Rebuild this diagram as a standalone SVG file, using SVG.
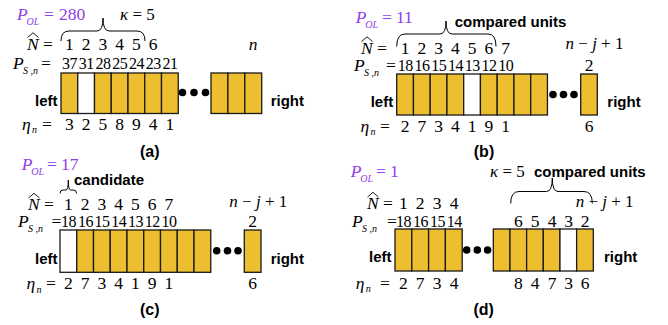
<svg xmlns="http://www.w3.org/2000/svg" width="668" height="325" viewBox="0 0 668 325">
<style>
.t{font-family:"Liberation Serif",serif;font-size:17.5px;fill:#000}
.p{font-family:"Liberation Serif",serif;font-size:16px;letter-spacing:-0.5px;fill:#000}
.s{font-family:"Liberation Serif",serif;font-size:10px;font-style:italic}
.pol{font-family:"Liberation Serif",serif;font-size:17.5px;fill:#9040E8}
.eq{font-family:"Liberation Serif",serif;font-size:17.5px}
.nj{font-family:"Liberation Serif",serif;font-size:17px}
.b{font-family:"Liberation Sans",Arial,sans-serif;font-size:15px;font-weight:bold}
.cap{font-family:"Liberation Sans",Arial,sans-serif;font-size:16px;font-weight:bold;text-anchor:middle}
.c{text-anchor:middle}
.box{fill:#EDBE2F;stroke:#1a1a1a;stroke-width:1.3}
.wbox{fill:#fff;stroke:#1a1a1a;stroke-width:1.3}
.br{fill:none;stroke:#000;stroke-width:1}
.hat{fill:none;stroke:#000;stroke-width:0.9}
</style>

<!-- Panel (a) -->
<g id="panel-a">
  <g id="a-labels">
    <text class="pol"><tspan x="17" y="20" font-style="italic">P</tspan><tspan x="26.5" y="25" font-size="10" font-style="italic">OL</tspan><tspan x="44" y="20">=</tspan><tspan x="59" y="20">280</tspan></text>
    <path class="br" d="M61,41 Q61,31 69,31 L97,31 Q103,31 103,18 Q103,31 109,31 L137,31 Q145,31 145,41"/>
    <text class="nj" x="120" y="20"><tspan font-style="italic">κ</tspan> = 5</text>
    <path class="hat" d="M27.5,37.5 L33,32.8 L38.5,37.5"/>
    <text class="eq" x="27" y="49.5"><tspan font-style="italic">N</tspan> =</text>
    <g class="t c">
      <text x="69.4" y="49.5">1</text><text x="86.1" y="49.5">2</text><text x="102.9" y="49.5">3</text><text x="119.6" y="49.5">4</text><text x="136.4" y="49.5">5</text><text x="153.1" y="49.5">6</text>
      <text x="253.2" y="49.5" font-style="italic">n</text>
    </g>
    <text class="eq" x="13" y="68.5" font-style="italic">P</text><text class="s" x="23" y="73.5">S ,n</text><text class="eq" x="41" y="68.5">=</text>
    <g class="p c">
      <text x="69.6" y="68.5">37</text><text x="86.3" y="68.5">31</text><text x="103.1" y="68.5">28</text><text x="119.8" y="68.5">25</text><text x="136.6" y="68.5">24</text><text x="153.3" y="68.5">23</text><text x="170.1" y="68.5">21</text>
    </g>
    <text class="eq" x="22" y="129.5" font-style="italic">η</text><text class="s" x="32" y="133">n</text><text class="eq" x="42" y="129.5">=</text>
    <g class="t c">
      <text x="69.4" y="129.5">3</text><text x="86.1" y="129.5">2</text><text x="102.9" y="129.5">5</text><text x="119.6" y="129.5">8</text><text x="136.4" y="129.5">9</text><text x="153.1" y="129.5">4</text><text x="169.9" y="129.5">1</text>
    </g>
    <text class="b" x="35" y="106">left</text>
    <text class="b" x="270.7" y="106">right</text>
    <text class="cap" x="149.7" y="157">(a)</text>
  </g>
  <g id="a-units">
    <rect class="box" x="61" y="73" width="16.75" height="40.5"/>
    <rect class="wbox" x="77.75" y="73" width="16.75" height="40.5"/>
    <rect class="box" x="94.5" y="73" width="16.75" height="40.5"/>
    <rect class="box" x="111.25" y="73" width="16.75" height="40.5"/>
    <rect class="box" x="128" y="73" width="16.75" height="40.5"/>
    <rect class="box" x="144.75" y="73" width="16.75" height="40.5"/>
    <rect class="box" x="161.5" y="73" width="16.75" height="40.5"/>
    <circle cx="182.5" cy="92.5" r="3.8"/><circle cx="194" cy="92.5" r="3.8"/><circle cx="205.5" cy="92.5" r="3.8"/>
    <rect class="box" x="211" y="73" width="16.9" height="40.5"/>
    <rect class="box" x="227.9" y="73" width="16.9" height="40.5"/>
    <rect class="box" x="244.8" y="73" width="16.9" height="40.5"/>
  </g>
</g>

<!-- Panel (b) -->
<g id="panel-b">
  <g id="b-labels">
    <text class="pol"><tspan x="355.7" y="23" font-style="italic">P</tspan><tspan x="365.2" y="28" font-size="10" font-style="italic">OL</tspan><tspan x="382" y="23">=</tspan><tspan x="396" y="23">11</tspan></text>
    <path class="br" d="M396.7,46.5 Q396.7,34 405,34 L440,34 Q446,34 446,21 Q446,34 452,34 L488,34 Q496,34 496,46.5"/>
    <text class="b" x="454.7" y="27">compared units</text>
    <path class="hat" d="M361.5,41.5 L367,36.8 L372.5,41.5"/>
    <text class="eq" x="361" y="53.5"><tspan font-style="italic">N</tspan> =</text>
    <g class="t c">
      <text x="405.1" y="53.5">1</text><text x="421.8" y="53.5">2</text><text x="438.6" y="53.5">3</text><text x="455.3" y="53.5">4</text><text x="472.1" y="53.5">5</text><text x="488.8" y="53.5">6</text><text x="505.6" y="53.5">7</text>
    </g>
    <text class="nj c" x="594.5" y="48.5"><tspan font-style="italic">n</tspan> − <tspan font-style="italic">j</tspan> + 1</text>
    <text class="eq" x="354" y="70.5" font-style="italic">P</text><text class="s" x="364" y="75.5">S ,n</text><text class="eq" x="386" y="70.5">=</text>
    <g class="p c">
      <text x="405.3" y="70.5">18</text><text x="422" y="70.5">16</text><text x="438.8" y="70.5">15</text><text x="455.5" y="70.5">14</text><text x="472.3" y="70.5">13</text><text x="489" y="70.5">12</text><text x="505.8" y="70.5">10</text>
    </g>
    <text class="t c" x="589" y="70.5">2</text>
    <text class="eq" x="360.5" y="131.5" font-style="italic">η</text><text class="s" x="370.5" y="135">n</text><text class="eq" x="380" y="131.5">=</text>
    <g class="t c">
      <text x="405.1" y="131.5">2</text><text x="421.8" y="131.5">7</text><text x="438.6" y="131.5">3</text><text x="455.3" y="131.5">4</text><text x="472.1" y="131.5">1</text><text x="488.8" y="131.5">9</text><text x="505.6" y="131.5">1</text>
      <text x="589" y="131.5">6</text>
    </g>
    <text class="b" x="370.7" y="106.5">left</text>
    <text class="b" x="607.3" y="106.5">right</text>
    <text class="cap" x="484" y="156.5">(b)</text>
  </g>
  <g id="b-units">
    <rect class="box" x="396.7" y="74" width="16.75" height="41"/>
    <rect class="box" x="413.45" y="74" width="16.75" height="41"/>
    <rect class="box" x="430.2" y="74" width="16.75" height="41"/>
    <rect class="box" x="446.95" y="74" width="16.75" height="41"/>
    <rect class="wbox" x="463.7" y="74" width="16.75" height="41"/>
    <rect class="box" x="480.45" y="74" width="16.75" height="41"/>
    <rect class="box" x="497.2" y="74" width="16.75" height="41"/>
    <rect class="box" x="513.95" y="74" width="16.75" height="41"/>
    <rect class="box" x="530.7" y="74" width="16.75" height="41"/>
    <circle cx="553" cy="94.5" r="3.8"/><circle cx="563.5" cy="94.5" r="3.8"/><circle cx="574" cy="94.5" r="3.8"/>
    <rect class="box" x="580.7" y="74" width="16.6" height="41"/>
  </g>
</g>

<!-- Panel (c) -->
<g id="panel-c">
  <g id="c-labels">
    <text class="pol"><tspan x="21.7" y="170" font-style="italic">P</tspan><tspan x="31.2" y="175" font-size="10" font-style="italic">OL</tspan><tspan x="47" y="170">=</tspan><tspan x="61" y="170">17</tspan></text>
    <path class="br" d="M60,193.5 Q60,190 63,190 L66,190 Q68.3,190 68.3,180 Q68.3,190 70.6,190 L73.5,190 Q76.5,190 76.5,193.5"/>
    <text class="b" x="74" y="185">candidate</text>
    <path class="hat" d="M28.5,198 L34,193.3 L39.5,198"/>
    <text class="eq" x="28" y="209.5"><tspan font-style="italic">N</tspan> =</text>
    <g class="t c">
      <text x="68.4" y="209.5">1</text><text x="85.2" y="209.5">2</text><text x="101.9" y="209.5">3</text><text x="118.6" y="209.5">4</text><text x="135.4" y="209.5">5</text><text x="152.1" y="209.5">6</text><text x="168.8" y="209.5">7</text>
    </g>
    <text class="nj c" x="258.3" y="206.5"><tspan font-style="italic">n</tspan> − <tspan font-style="italic">j</tspan> + 1</text>
    <text class="eq" x="18" y="226.5" font-style="italic">P</text><text class="s" x="28" y="231.5">S ,n</text><text class="eq" x="51.5" y="226.5">=</text>
    <g class="p c">
      <text x="68.6" y="226.5">18</text><text x="85.4" y="226.5">16</text><text x="102.1" y="226.5">15</text><text x="118.8" y="226.5">14</text><text x="135.6" y="226.5">13</text><text x="152.3" y="226.5">12</text><text x="169" y="226.5">10</text>
    </g>
    <text class="t c" x="252.7" y="226.5">2</text>
    <text class="eq" x="26.5" y="289" font-style="italic">η</text><text class="s" x="36.5" y="292.5">n</text><text class="eq" x="46" y="289">=</text>
    <g class="t c">
      <text x="68.4" y="289">2</text><text x="85.2" y="289">7</text><text x="101.9" y="289">3</text><text x="118.6" y="289">4</text><text x="135.4" y="289">1</text><text x="152.1" y="289">9</text><text x="168.8" y="289">1</text>
      <text x="252.7" y="289">6</text>
    </g>
    <text class="b" x="35" y="264">left</text>
    <text class="b" x="270.7" y="264">right</text>
    <text class="cap" x="149.7" y="315">(c)</text>
  </g>
  <g id="c-units">
    <rect class="wbox" x="60" y="230" width="16.75" height="42.3"/>
    <rect class="box" x="76.75" y="230" width="16.75" height="42.3"/>
    <rect class="box" x="93.5" y="230" width="16.75" height="42.3"/>
    <rect class="box" x="110.25" y="230" width="16.75" height="42.3"/>
    <rect class="box" x="127" y="230" width="16.75" height="42.3"/>
    <rect class="box" x="143.75" y="230" width="16.75" height="42.3"/>
    <rect class="box" x="160.5" y="230" width="16.75" height="42.3"/>
    <rect class="box" x="177.25" y="230" width="16.75" height="42.3"/>
    <rect class="box" x="194" y="230" width="16.75" height="42.3"/>
    <circle cx="216.7" cy="250.7" r="3.8"/><circle cx="227.5" cy="250.7" r="3.8"/><circle cx="238" cy="250.7" r="3.8"/>
    <rect class="box" x="244.3" y="230" width="16.7" height="42.3"/>
  </g>
</g>

<!-- Panel (d) -->
<g id="panel-d">
  <g id="d-labels">
    <text class="pol"><tspan x="350.7" y="177" font-style="italic">P</tspan><tspan x="360.2" y="182" font-size="10" font-style="italic">OL</tspan><tspan x="376" y="177">=</tspan><tspan x="390" y="177">1</tspan></text>
    <text class="nj" x="490" y="177"><tspan font-style="italic">κ</tspan> = 5</text>
    <text class="b" x="534" y="177">compared units</text>
    <path class="br" d="M510.7,203.5 Q510.7,191.5 519,191.5 L546.5,191.5 Q552.3,191.5 552.3,178 Q552.3,191.5 558,191.5 L584,191.5 Q592.3,191.5 592.3,203.5"/>
    <path class="hat" d="M367.5,197 L373,192.3 L378.5,197"/>
    <text class="eq" x="367" y="208.5"><tspan font-style="italic">N</tspan> =</text>
    <g class="t c">
      <text x="403.3" y="208.5">1</text><text x="420.2" y="208.5">2</text><text x="437.2" y="208.5">3</text><text x="454" y="208.5">4</text>
    </g>
    <text class="nj" x="575.7" y="206.7"><tspan font-style="italic">n</tspan> − <tspan font-style="italic">j</tspan> + 1</text>
    <text class="eq" x="352" y="226.5" font-style="italic">P</text><text class="s" x="362" y="231.5">S ,n</text><text class="eq" x="387" y="226.5">=</text>
    <g class="p c">
      <text x="403.5" y="226.5">18</text><text x="420.4" y="226.5">16</text><text x="437.4" y="226.5">15</text><text x="454.2" y="226.5">14</text>
    </g>
    <g class="t c">
      <text x="518.3" y="226.5">6</text><text x="535.2" y="226.5">5</text><text x="552" y="226.5">4</text><text x="568.5" y="226.5">3</text><text x="585" y="226.5">2</text>
    </g>
    <text class="eq" x="355.7" y="288.5" font-style="italic">η</text><text class="s" x="365.7" y="292">n</text><text class="eq" x="380" y="288.5">=</text>
    <g class="t c">
      <text x="403.3" y="288.5">2</text><text x="420.2" y="288.5">7</text><text x="437.2" y="288.5">3</text><text x="454" y="288.5">4</text>
      <text x="518.3" y="288.5">8</text><text x="535.2" y="288.5">4</text><text x="552" y="288.5">7</text><text x="568.5" y="288.5">3</text><text x="585" y="288.5">6</text>
    </g>
    <text class="b" x="369" y="261.7">left</text>
    <text class="b" x="604" y="261.7">right</text>
    <text class="cap" x="483.7" y="314.5">(d)</text>
  </g>
  <g id="d-units">
    <rect class="box" x="395" y="229" width="16.8" height="42"/>
    <rect class="box" x="411.8" y="229" width="16.8" height="42"/>
    <rect class="box" x="428.6" y="229" width="16.8" height="42"/>
    <rect class="box" x="445.4" y="229" width="16.8" height="42"/>
    <circle cx="466.7" cy="250" r="3.8"/><circle cx="477.3" cy="250" r="3.8"/><circle cx="487.6" cy="250" r="3.8"/>
    <rect class="box" x="493.3" y="229" width="16.67" height="42"/>
    <rect class="box" x="509.97" y="229" width="16.67" height="42"/>
    <rect class="box" x="526.63" y="229" width="16.67" height="42"/>
    <rect class="box" x="543.3" y="229" width="16.67" height="42"/>
    <rect class="wbox" x="559.97" y="229" width="16.67" height="42"/>
    <rect class="box" x="576.63" y="229" width="16.67" height="42"/>
  </g>
</g>
</svg>
